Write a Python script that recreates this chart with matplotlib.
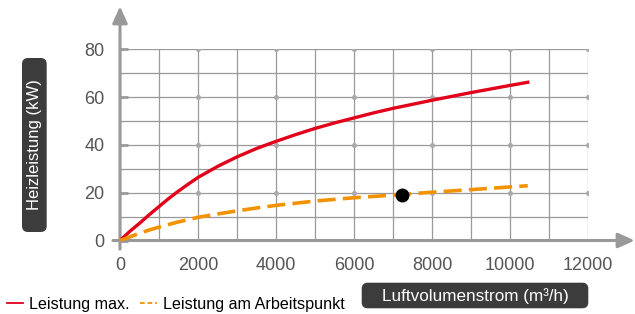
import matplotlib
matplotlib.use('Agg')
import matplotlib.pyplot as plt
from matplotlib.patches import FancyBboxPatch
from matplotlib.lines import Line2D
import numpy as np

plt.rcParams['font.family'] = ['Liberation Sans', 'DejaVu Sans']

# Data
flow_max = [0, 250, 500, 750, 1000, 1250, 1500, 1750, 2000, 2500, 3000, 3500, 4000, 4500,
            5000, 5500, 6000, 6500, 7000, 7500, 8000, 8500, 9000, 9500, 10000, 10450]
power_max = [0, 3.8, 7.2, 10.8, 14.2, 17.6, 20.7, 23.6, 26.4, 31.0, 35.0, 38.5, 41.5, 44.3,
             46.9, 49.2, 51.3, 53.4, 55.3, 57.0, 58.7, 60.3, 61.9, 63.4, 64.9, 66.2]
flow_op = [0, 250, 500, 750, 1000, 1500, 2000, 2500, 3000, 3500, 4000, 5000, 6000, 7000,
           8000, 9000, 10000, 10450]
power_op = [0, 1.5, 3.0, 4.4, 5.6, 7.8, 9.7, 11.1, 12.4, 13.6, 14.7, 16.5, 17.9, 19.0,
            20.2, 21.3, 22.4, 22.9]
op_point_x = [7214]
op_point_y = [19.2]

x_ticks = [0, 2000, 4000, 6000, 8000, 10000, 12000]
y_ticks = [0, 20, 40, 60, 80]

red = '#e2001a'
orange = '#f39200'
grey = '#999999'
box_col = '#3c3c3c'

W, H = 635, 314
fig = plt.figure(figsize=(W / 100, H / 100), dpi=100)
ax = fig.add_axes([120 / W, (H - 240.5) / H, 468.3 / W, 191.2 / H])
ax.set_xlim(0, 12000)
ax.set_ylim(0, 80)
for s in ax.spines.values():
    s.set_visible(False)

# grid
ax.vlines(np.arange(0, 12001, 1000), 0, 80, color=grey, lw=0.9, zorder=1)
ax.hlines(np.arange(0, 81, 10), 0, 12000, color=grey, lw=0.9, zorder=1)
gx, gy = np.meshgrid(x_ticks[1:], y_ticks[1:])
ax.plot(gx.ravel(), gy.ravel(), 'o', color='#aaaaaa', ms=2.6, zorder=1.5)

# axes with arrows
arrow = dict(arrowstyle='-|>,head_length=1.0,head_width=0.45', mutation_scale=10,
             color=grey, lw=2.2, shrinkA=0, shrinkB=0)
ax.annotate('', xy=(13190, 0), xytext=(-180, 0), arrowprops=arrow,
            annotation_clip=False, zorder=3)
ax.annotate('', xy=(0, 98), xytext=(0, -3.6), arrowprops=arrow,
            annotation_clip=False, zorder=3)

ax.set_xticks(x_ticks)
ax.set_yticks(y_ticks)
ax.tick_params(axis='x', length=0, pad=12, labelsize=13, labelcolor='#555555')
ax.tick_params(axis='y', direction='in', length=6, width=2, color=grey,
               pad=11, labelsize=13, labelcolor='#555555')

# curves
ax.plot(flow_max, power_max, color=red, lw=2.4, zorder=4, solid_joinstyle='round')
ax.plot(flow_op, power_op, color=orange, lw=2.6, dashes=(5, 2), zorder=4,
        dash_joinstyle='round')
ax.plot(op_point_x, op_point_y, 'o', color='black', ms=9, zorder=5)

# axis label boxes (pixel coords -> inches)
def px_box(x0, y0, x1, y1):
    return FancyBboxPatch((x0 / 100, (H - y1) / 100), (x1 - x0) / 100, (y1 - y0) / 100,
                          boxstyle='round,pad=0,rounding_size=0.06',
                          transform=fig.dpi_scale_trans, fc=box_col, ec='none')

fig.patches.append(px_box(22, 58, 46.7, 232))
fig.text(34.5 / W, 1 - 145 / H, 'Heizleistung (kW)', rotation=90, color='white',
         fontsize=12, ha='center', va='center')
fig.patches.append(px_box(361.7, 282.7, 588.3, 308.3))
fig.text(475 / W, 1 - 296 / H, 'Luftvolumenstrom (m³/h)', color='white',
         fontsize=12.3, ha='center', va='center')

# legend drawn by hand
fig.lines.append(Line2D([7 / W, 23 / W], [1 - 303 / H] * 2, color=red, lw=1.3,
                        transform=fig.transFigure))
fig.text(29 / W, 1 - 309 / H, 'Leistung max.', fontsize=11.6, va='baseline', color='black')
fig.lines.append(Line2D([140 / W, 157 / W], [1 - 303 / H] * 2, color=orange, lw=1.3,
                        dashes=(2.6, 1.6), transform=fig.transFigure))
fig.text(163 / W, 1 - 309 / H, 'Leistung am Arbeitspunkt', fontsize=11.6, va='baseline',
         color='black')

fig.savefig('out.png', dpi=100)
